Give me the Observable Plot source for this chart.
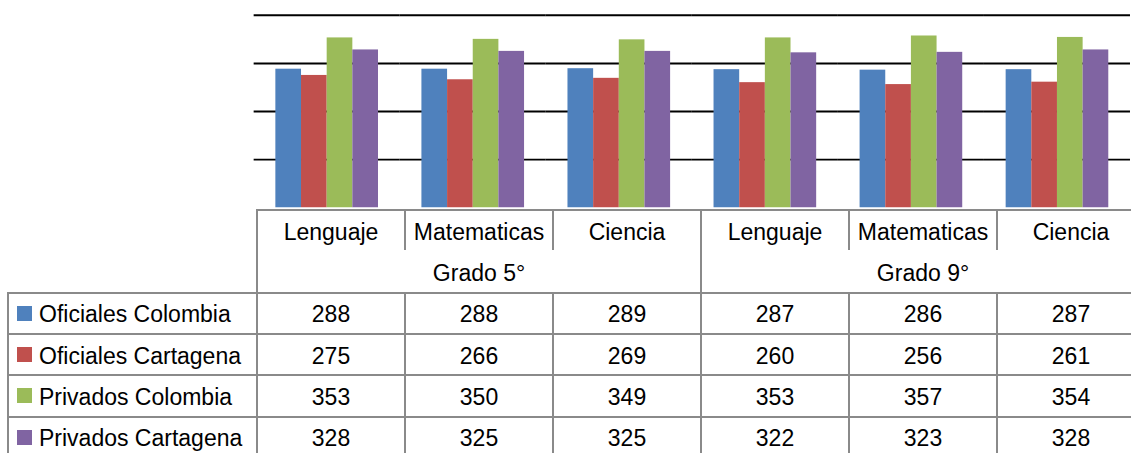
<!DOCTYPE html>
<html><head><meta charset="utf-8">
<script src="https://cdn.jsdelivr.net/npm/d3@7"></script>
<script src="https://cdn.jsdelivr.net/npm/@observablehq/plot@0.6"></script>
<style>
html,body{margin:0;padding:0;background:#fff;overflow:hidden;width:1131px;height:453px}
#wrap{position:relative;width:1131px;height:453px;overflow:hidden;background:#fff}
#chart{position:absolute;left:0;top:0}
.ln{position:absolute;background:#8a8a8a}
.tx{position:absolute;box-sizing:border-box;padding-top:3px;font-family:"Liberation Sans",Arial,sans-serif;font-size:23px;color:#000;display:flex;align-items:center;white-space:nowrap}
.c{justify-content:center}
.key{position:absolute;width:15px;height:15px}
</style>
</head><body><div id="wrap"><div id="chart"></div></div>
<script>
const grades = ["Grado 5°", "Grado 9°"];
const subjects = ["Lenguaje", "Matematicas", "Ciencia"];
const series = ["Oficiales Colombia", "Oficiales Cartagena", "Privados Colombia", "Privados Cartagena"];
const colors = ["#4F81BD", "#C0504D", "#9BBB59", "#8064A2"];
const oficialesColombia = [288, 288, 289, 287, 286, 287];
const oficialesCartagena = [275, 266, 269, 260, 256, 261];
const privadosColombia = [353, 350, 349, 353, 357, 354];
const privadosCartagena = [328, 325, 325, 322, 323, 328];
const yTicks = [100, 200, 300, 400];

const seriesValues = [oficialesColombia, oficialesCartagena, privadosColombia, privadosCartagena];
const cats = grades.flatMap(g => subjects.map(s => ({key: g + "|" + s, grade: g, subject: s})));
const keys = cats.map(c => c.key);
const rows = cats.flatMap((c, i) => series.map((s, j) => ({cat: c.key, series: s, value: seriesValues[j][i]})));

const W = 1146;
const chart = Plot.plot({
  width: W, height: 212,
  marginLeft: 255, marginRight: 0, marginTop: 15, marginBottom: 2,
  fx: {domain: keys, padding: 0, axis: null},
  x: {domain: series, paddingInner: 0, paddingOuter: 0.75, axis: null},
  y: {domain: [0, 400], axis: null},
  color: {domain: series, range: colors},
  style: {background: "transparent", overflow: "visible"},
  marks: [
    Plot.ruleY(yTicks, {stroke: "#000", strokeWidth: 2}),
    Plot.barY(rows, {fx: "cat", x: "series", y: "value", fill: "series"})
  ]
});
document.getElementById("chart").appendChild(chart);

// Data table below the plot, aligned with the facet scale
const wrap = document.getElementById("wrap");
const fx = chart.scale("fx");
const ys = chart.scale("y");
const bw = fx.bandwidth;
const top0 = ys.apply(0);
const rowH = 41.3;
const catTop = top0, grpTop = top0 + rowH, dataTop = top0 + 2 * rowH;
const bottom = dataTop + 4 * rowH + 10;
const leftCol = 8;
const xLeft = fx.apply(keys[0]);
const xRight = fx.apply(keys[keys.length - 1]) + bw;

function line(x, y, w, h) {
  const d = document.createElement("div");
  d.className = "ln";
  d.style.left = x + "px"; d.style.top = y + "px";
  d.style.width = w + "px"; d.style.height = h + "px";
  wrap.appendChild(d);
}
function text(str, x, y, w, h, center) {
  const d = document.createElement("div");
  d.className = "tx" + (center ? " c" : "");
  d.style.left = x + "px"; d.style.top = y + "px";
  d.style.width = w + "px"; d.style.height = h + "px";
  d.textContent = str;
  wrap.appendChild(d);
}

// horizontal lines
line(xLeft - 1, catTop - 1, xRight - xLeft + 2, 2);
for (let k = 0; k <= 4; k++) line(leftCol - 1, dataTop + k * rowH - 1, xRight - leftCol + 2, 2);
// vertical lines
line(xLeft - 1, catTop - 1, 2, bottom - catTop);
line(leftCol - 1, dataTop - 1, 2, bottom - dataTop);
keys.forEach((k, i) => {
  if (i === 0) return;
  const x = fx.apply(k);
  if (cats[i].grade !== cats[i - 1].grade) {
    line(x - 1, catTop - 1, 2, bottom - catTop);
  } else {
    line(x - 1, catTop - 1, 2, rowH);
    line(x - 1, dataTop - 1, 2, bottom - dataTop);
  }
});
line(xRight - 1, catTop - 1, 2, bottom - catTop);

// category & grade labels
cats.forEach(c => text(c.subject, fx.apply(c.key), catTop, bw, rowH, true));
grades.forEach(g => {
  const ks = cats.filter(c => c.grade === g).map(c => c.key);
  const x0 = fx.apply(ks[0]), x1 = fx.apply(ks[ks.length - 1]) + bw;
  text(g, x0, grpTop, x1 - x0, rowH, true);
});
// series rows
series.forEach((s, j) => {
  const y = dataTop + j * rowH;
  const key = document.createElement("div");
  key.className = "key";
  key.style.left = "17px";
  key.style.top = (y + rowH / 2 - 7.5) + "px";
  key.style.background = colors[j];
  wrap.appendChild(key);
  text(s, 39, y, xLeft - 40, rowH, false);
  cats.forEach((c, i) => text(String(seriesValues[j][i]), fx.apply(c.key), y, bw, rowH, true));
});
</script>
</body></html>
